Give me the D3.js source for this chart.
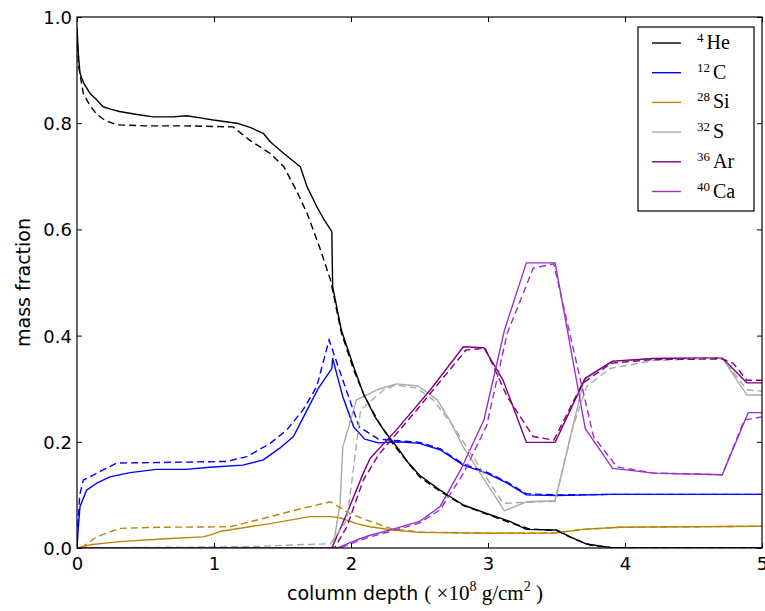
<!DOCTYPE html>
<html><head><meta charset="utf-8">
<script src="https://cdn.jsdelivr.net/npm/d3@7"></script>
<style>body{margin:0;background:#fff}svg{display:block}</style>
</head><body>
<svg id="c" width="765" height="611"></svg>
<script>
// ---- data (x in 1e8 g/cm^2, y mass fraction) ----
const heSolid=[[0,0.98],[0.01,0.93],[0.022,0.894],[0.05,0.875],[0.095,0.856],[0.14,0.845],[0.19,0.831],[0.25,0.826],[0.31,0.822],[0.45,0.816],[0.557,0.812],[0.7,0.812],[0.80,0.814],[0.9,0.810],[0.995,0.806],[1.166,0.80],[1.263,0.792],[1.36,0.781],[1.41,0.765],[1.51,0.743],[1.63,0.718],[1.68,0.68],[1.75,0.643],[1.80,0.62],[1.86,0.596],[1.866,0.492],[1.93,0.41],[2.02,0.341],[2.09,0.291],[2.175,0.247],[2.24,0.222],[2.35,0.185],[2.42,0.16],[2.50,0.137],[2.65,0.109],[2.82,0.081],[2.99,0.065],[3.16,0.05],[3.28,0.035],[3.50,0.034],[3.60,0.021],[3.72,0.0075],[3.89,0.001],[4.0,0],[5,0]];
const heDashed=[[0,0.97],[0.01,0.91],[0.046,0.856],[0.09,0.835],[0.14,0.818],[0.2,0.806],[0.29,0.797],[0.5,0.795],[0.8,0.795],[1.14,0.793],[1.26,0.768],[1.41,0.743],[1.51,0.718],[1.60,0.674],[1.68,0.63],[1.77,0.567],[1.85,0.505],[1.93,0.405],[2.02,0.335],[2.1,0.285],[2.2,0.238],[2.3,0.198],[2.5,0.134],[2.65,0.107],[2.82,0.08],[3.0,0.063],[3.16,0.048],[3.3,0.036],[3.5,0.033],[3.62,0.018],[3.75,0.005],[3.92,0],[5,0]];
const cSolid=[[0,0],[0.01,0.04],[0.022,0.078],[0.07,0.109],[0.144,0.122],[0.24,0.134],[0.387,0.142],[0.58,0.148],[0.80,0.148],[0.97,0.152],[1.21,0.156],[1.36,0.166],[1.48,0.188],[1.58,0.21],[1.65,0.245],[1.76,0.30],[1.86,0.338],[1.866,0.357],[1.94,0.285],[2.02,0.228],[2.1,0.205],[2.2,0.198],[2.35,0.20],[2.5,0.197],[2.65,0.185],[2.82,0.156],[2.99,0.141],[3.14,0.122],[3.28,0.10],[3.5,0.099],[3.9,0.101],[5,0.101]];
const cDashed=[[0.005,0.04],[0.02,0.1],[0.046,0.128],[0.095,0.134],[0.19,0.147],[0.29,0.16],[0.6,0.161],[1.09,0.163],[1.24,0.172],[1.41,0.197],[1.53,0.222],[1.65,0.26],[1.75,0.304],[1.84,0.392],[1.99,0.279],[2.06,0.228],[2.2,0.205],[2.35,0.202],[2.5,0.199],[2.65,0.187],[2.82,0.158],[2.99,0.143],[3.14,0.124],[3.28,0.102],[3.5,0.1],[3.9,0.101],[5,0.101]];
const siSolid=[[0,0],[0.095,0.006],[0.31,0.012],[0.68,0.018],[0.92,0.021],[0.995,0.026],[1.04,0.031],[1.41,0.046],[1.70,0.059],[1.85,0.059],[1.92,0.057],[2.04,0.046],[2.14,0.04],[2.3,0.034],[2.5,0.0295],[2.99,0.0277],[3.48,0.028],[3.69,0.035],[3.96,0.039],[5,0.041]];
const siDashed=[[0.03,0],[0.144,0.021],[0.31,0.037],[0.6,0.039],[1.12,0.04],[1.41,0.059],[1.65,0.075],[1.85,0.087],[1.99,0.065],[2.11,0.053],[2.3,0.036],[2.5,0.03],[3.0,0.028],[3.48,0.028],[3.69,0.035],[3.96,0.039],[5,0.041]];
const sSolid=[[0,0],[1.85,0],[1.87,0.002],[1.92,0.084],[1.94,0.19],[2.04,0.279],[2.19,0.298],[2.33,0.309],[2.49,0.305],[2.63,0.279],[2.72,0.241],[2.82,0.19],[3.12,0.07],[3.28,0.087],[3.49,0.089],[3.70,0.316],[3.90,0.351],[4.21,0.357],[4.71,0.358],[4.89,0.288],[5,0.288]];
const sDashed=[[0,0],[1.0,0.002],[1.31,0.003],[1.60,0.006],[1.85,0.008],[1.97,0.053],[2.02,0.153],[2.07,0.26],[2.24,0.298],[2.33,0.307],[2.48,0.301],[2.6,0.279],[2.75,0.228],[3.11,0.084],[3.28,0.086],[3.49,0.088],[3.62,0.228],[3.72,0.304],[3.89,0.338],[4.21,0.353],[4.71,0.358],[4.89,0.298],[5,0.295]];
const arSolid=[[0,0],[1.86,0],[1.97,0.065],[2.09,0.141],[2.14,0.169],[2.33,0.222],[2.58,0.298],[2.82,0.379],[2.97,0.377],[3.11,0.316],[3.28,0.199],[3.49,0.199],[3.71,0.32],[3.91,0.352],[4.21,0.357],[4.71,0.358],[4.89,0.311],[5,0.311]];
const arDashed=[[0,0],[1.88,0],[1.97,0.04],[2.09,0.128],[2.2,0.175],[2.48,0.26],[2.84,0.373],[2.98,0.376],[3.14,0.285],[3.33,0.21],[3.48,0.203],[3.69,0.31],[3.9,0.348],[4.21,0.355],[4.71,0.356],[4.79,0.348],[4.89,0.316],[5,0.316]];
const caSolid=[[0,0],[1.9,0],[2.04,0.015],[2.14,0.024],[2.3,0.035],[2.50,0.05],[2.65,0.078],[2.8,0.147],[2.97,0.241],[3.12,0.41],[3.28,0.537],[3.49,0.537],[3.71,0.225],[3.91,0.15],[4.21,0.141],[4.71,0.138],[4.90,0.255],[5,0.255]];
const caDashed=[[0,0],[1.92,0],[2.04,0.012],[2.14,0.021],[2.3,0.032],[2.5,0.047],[2.65,0.072],[2.82,0.14],[2.99,0.23],[3.14,0.404],[3.33,0.527],[3.48,0.535],[3.77,0.21],[3.94,0.153],[4.21,0.141],[4.71,0.138],[4.87,0.241],[5,0.247]];

const species=[
  {mass:"4",sym:"He",color:"#000000",solid:heSolid,dashed:heDashed},
  {mass:"12",sym:"C",color:"#0000ff",solid:cSolid,dashed:cDashed},
  {mass:"28",sym:"Si",color:"#b8860b",solid:siSolid,dashed:siDashed},
  {mass:"32",sym:"S",color:"#a9a9a9",solid:sSolid,dashed:sDashed},
  {mass:"36",sym:"Ar",color:"#800080",solid:arSolid,dashed:arDashed},
  {mass:"40",sym:"Ca",color:"#9932cc",solid:caSolid,dashed:caDashed}
];
const xTicks=[0,1,2,3,4,5];
const yTicks=[0,0.2,0.4,0.6,0.8,1.0];

// ---- layout ----
const L=77,R=762,T=17,B=548;
const svg=d3.select("#c");
const x=d3.scaleLinear().domain([0,5]).range([L,R]);
const y=d3.scaleLinear().domain([0,1]).range([B,T]);

const defs=svg.append("defs");
defs.append("clipPath").attr("id","clip").append("rect").attr("x",L).attr("y",T).attr("width",R-L).attr("height",B-T);

const line=d3.line().x(d=>x(d[0])).y(d=>y(d[1]));
const g=svg.append("g").attr("clip-path","url(#clip)");
species.forEach(s=>{
  g.append("path").attr("d",line(s.solid)).attr("fill","none").attr("stroke",s.color).attr("stroke-width",1.4).attr("stroke-linejoin","round");
});
species.forEach(s=>{
  g.append("path").attr("d",line(s.dashed)).attr("fill","none").attr("stroke",s.color).attr("stroke-width",1.4).attr("stroke-dasharray","7,4");
});

// axes (ticks inside, on all sides)
const tickFont="DejaVu Sans";
const ax=svg.append("g").attr("transform",`translate(0,${B})`).call(d3.axisBottom(x).tickValues(xTicks).tickFormat(d3.format("d")).tickSizeInner(-5).tickSizeOuter(0).tickPadding(9));
const axTop=svg.append("g").attr("transform",`translate(0,${T})`).call(d3.axisTop(x).tickValues(xTicks).tickFormat("").tickSizeInner(-5).tickSizeOuter(0));
const ay=svg.append("g").attr("transform",`translate(${L},0)`).call(d3.axisLeft(y).tickValues(yTicks).tickFormat(d3.format(".1f")).tickSizeInner(-5).tickSizeOuter(0).tickPadding(5));
const ayR=svg.append("g").attr("transform",`translate(${R},0)`).call(d3.axisRight(y).tickValues(yTicks).tickFormat("").tickSizeInner(-5).tickSizeOuter(0));
[ax,axTop,ay,ayR].forEach(a=>{a.select(".domain").remove();a.selectAll("line").attr("stroke","#000").attr("stroke-width",1);a.selectAll("text").attr("font-family",tickFont).attr("font-size",18).attr("fill","#000");});
ay.selectAll("text").attr("dy","0.36em");

svg.append("rect").attr("x",L).attr("y",T).attr("width",R-L).attr("height",B-T).attr("fill","none").attr("stroke","#000").attr("stroke-width",1.2);

// axis labels
svg.append("text").attr("transform",`translate(30,${(T+B)/2}) rotate(-90)`).attr("text-anchor","middle")
  .attr("font-family",tickFont).attr("font-size",19).text("mass fraction");
const xl=svg.append("text").attr("x",287).attr("y",600).attr("text-anchor","start").attr("font-size",19);
xl.append("tspan").attr("font-family",tickFont).text("column depth ");
xl.append("tspan").attr("font-family","Liberation Serif").attr("font-size",21).text("( ×10");
xl.append("tspan").attr("font-family","Liberation Serif").attr("font-size",14).attr("dy",-9).text("8");
xl.append("tspan").attr("font-family","Liberation Serif").attr("font-size",21).attr("dy",9).text(" g/cm");
xl.append("tspan").attr("font-family","Liberation Serif").attr("font-size",14).attr("dy",-9).text("2");
xl.append("tspan").attr("font-family","Liberation Serif").attr("font-size",21).attr("dy",9).text(" )");

// legend
const lg=svg.append("g");
lg.append("rect").attr("x",638).attr("y",27).attr("width",116).attr("height",184).attr("fill","#fff").attr("stroke","#000").attr("stroke-width",1.2);
species.forEach((s,i)=>{
  const yy=43+i*29.7;
  lg.append("line").attr("x1",652).attr("x2",681).attr("y1",yy).attr("y2",yy).attr("stroke",s.color).attr("stroke-width",1.4);
  const t=lg.append("text").attr("x",697).attr("y",yy+6).attr("font-family","Liberation Serif").attr("font-size",20);
  t.append("tspan").attr("font-size",13).attr("dy",-7).text(s.mass);
  t.append("tspan").attr("dy",7).attr("dx",3).text(s.sym);
});
</script>
</body></html>
